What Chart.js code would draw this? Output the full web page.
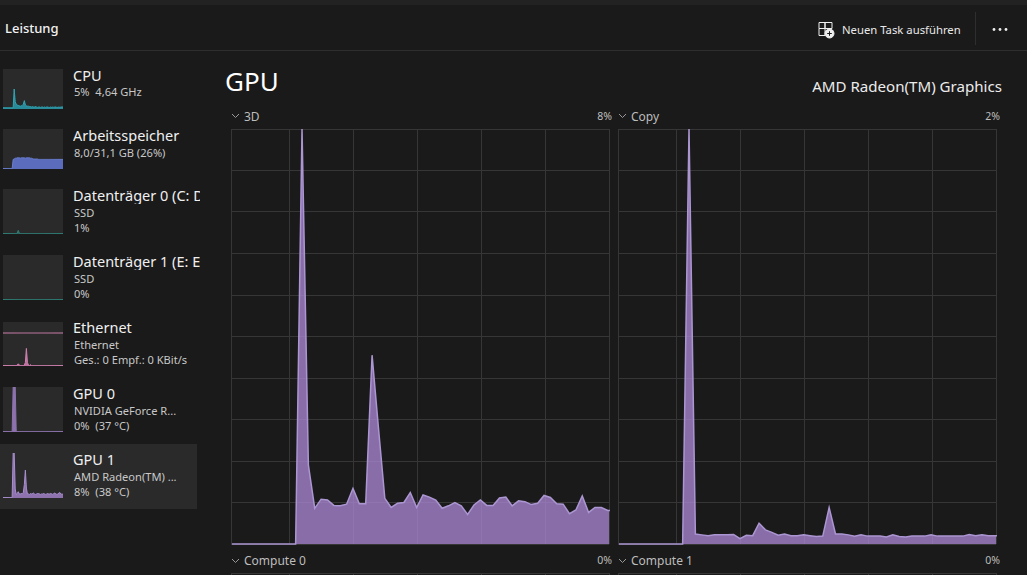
<!DOCTYPE html>
<html>
<head>
<meta charset="utf-8">
<script src="https://cdn.jsdelivr.net/npm/chart.js@4"></script>
<style>
html,body{margin:0;padding:0;width:1027px;height:575px;overflow:hidden;background:#1a1a1a;color:#fff;font-family:"Noto Sans",sans-serif}
.t{position:absolute;white-space:nowrap;line-height:1}
.sub{color:#c8c8c8;font-size:11.1px}
.name{color:#f0f0f0;font-size:14.5px;overflow:hidden;width:127px;line-height:18px}
.lab{color:#bdbdbd;font-size:12px}
.pct{color:#bdbdbd;font-size:10.5px}
canvas{position:absolute;display:block}
svg{position:absolute}
</style>
</head>
<body>
<div style="position:absolute;left:0;top:0;width:1027px;height:5px;background:#222"></div>
<div style="position:absolute;left:0;top:50px;width:1027px;height:1px;background:#2e2e2e"></div>
<div style="position:absolute;left:975px;top:12px;width:1px;height:33px;background:#2e2e2e"></div>
<div style="position:absolute;left:0;top:444px;width:197px;height:65px;background:#2a2a2a"></div>

<div class="t" style="left:5px;top:22px;font-size:13px;font-weight:500;color:#f2f2f2">Leistung</div>
<svg style="left:817px;top:21px" width="18" height="18" viewBox="0 0 18 18" fill="none" stroke="#eee" stroke-width="1">
<path d="M2 1.5h6v6H2zM8 1.5h7v6H8zM2 7.5h6v7H2z"/><circle cx="12.5" cy="12.5" r="4.5" fill="#eee"/><path d="M10.2 12.5h4.6M12.5 10.2v4.6" stroke="#1a1a1a"/></svg>
<div class="t" style="left:842px;top:24px;font-size:11.3px;color:#e8e8e8">Neuen Task ausführen</div>
<svg style="left:990px;top:26px" width="20" height="7" fill="#eee"><circle cx="4" cy="3.5" r="1.4"/><circle cx="10" cy="3.5" r="1.4"/><circle cx="16" cy="3.5" r="1.4"/></svg>

<div class="t" style="left:225px;top:68px;font-size:26px;color:#fff">GPU</div>
<div class="t" style="right:25px;top:79px;font-size:15.1px;color:#ececec">AMD Radeon(TM) Graphics</div>

<svg style="left:231px;top:113px" width="9" height="6"><path d="M1 1l3.5 3.5L8 1" fill="none" stroke="#999"/></svg>
<div class="t lab" style="left:244px;top:111px">3D</div>
<div class="t pct" style="right:415px;top:111px">8%</div>
<svg style="left:618px;top:113px" width="9" height="6"><path d="M1 1l3.5 3.5L8 1" fill="none" stroke="#999"/></svg>
<div class="t lab" style="left:631px;top:111px">Copy</div>
<div class="t pct" style="right:27px;top:111px">2%</div>
<svg style="left:231px;top:558px" width="9" height="6"><path d="M1 1l3.5 3.5L8 1" fill="none" stroke="#999"/></svg>
<div class="t lab" style="left:244px;top:555px">Compute 0</div>
<div class="t pct" style="right:415px;top:555px">0%</div>
<svg style="left:618px;top:558px" width="9" height="6"><path d="M1 1l3.5 3.5L8 1" fill="none" stroke="#999"/></svg>
<div class="t lab" style="left:631px;top:555px">Compute 1</div>
<div class="t pct" style="right:27px;top:555px">0%</div>

<div class="t name" style="left:73px;top:66px">CPU</div>
<div class="t sub" style="left:74px;top:86px">5%&nbsp; 4,64 GHz</div>
<div class="t name" style="left:73px;top:126px">Arbeitsspeicher</div>
<div class="t sub" style="left:74px;top:147px">8,0/31,1 GB (26%)</div>
<div class="t name" style="left:73px;top:186px">Datenträger 0 (C: D</div>
<div class="t sub" style="left:74px;top:207px">SSD</div>
<div class="t sub" style="left:74px;top:222px">1%</div>
<div class="t name" style="left:73px;top:252px">Datenträger 1 (E: E</div>
<div class="t sub" style="left:74px;top:273px">SSD</div>
<div class="t sub" style="left:74px;top:288px">0%</div>
<div class="t name" style="left:73px;top:318px">Ethernet</div>
<div class="t sub" style="left:74px;top:339px">Ethernet</div>
<div class="t sub" style="left:74px;top:354px">Ges.: 0 Empf.: 0 KBit/s</div>
<div class="t name" style="left:73px;top:384px">GPU 0</div>
<div class="t sub" style="left:74px;top:405px">NVIDIA GeForce R...</div>
<div class="t sub" style="left:74px;top:420px">0%&nbsp; (37 °C)</div>
<div class="t name" style="left:73px;top:450px">GPU 1</div>
<div class="t sub" style="left:74px;top:471px">AMD Radeon(TM) ...</div>
<div class="t sub" style="left:74px;top:486px">8%&nbsp; (38 °C)</div>

<script>
// seconds on the x axis, one reading per second
const seconds = [0,1,2,3,4,5,6,7,8,9,10,11,12,13,14,15,16,17,18,19,20,21,22,23,24,25,26,27,28,29,30,31,32,33,34,35,36,37,38,39,40,41,42,43,44,45,46,47,48,49,50,51,52,53,54,55,56,57,58,59,60];
const gridSeconds = [-0.15,9.1,19.16,29.2,39.2,49.2,59.2];

// big charts, values in %
const threeD = [0,0,0,0,0,0,0,0,0,0,0,100,19,8.6,10.8,10.6,9.3,9.2,9.6,13.4,9.7,9.7,45.5,28,11,8.8,9.8,10,12.4,8.8,11.8,11.3,10.6,8.6,9.2,10,9.2,7.1,9.4,10.6,9.3,9.3,11.1,11.3,9.2,10.4,10.2,9.5,9.8,11.7,11.2,9.7,9.6,7.3,8.2,11.6,7.6,8.8,8.8,8.1,8.1];
const copy = [0,0,0,0,0,0,0,0,0,0,0,100,2.4,2.2,2,2.2,2.2,2.2,2.3,1.3,2.1,2,5,3.4,2.8,2.1,2.4,2,2,2.2,2,1.8,1.9,8.8,2.4,2.4,2.2,1.9,2.2,1.9,1.9,1.9,1.7,2.2,1.8,1.7,1.9,1.9,1.9,2.2,1.9,1.9,1.9,1.9,1.9,2.3,2,2.2,2,2,2];
const compute0 = [];
const compute1 = [];

// sidebar thumbnails, values in %
const cpuThumb = [3,3,3,3,3,3,3,3,3,3,3,50,18,12,10,9,8,7,8,9,12,21,10,8,7,7,6,6,5,6,5,5,6,5,4,5,5,4,5,5,4,5,4,5,5,4,4,5,4,5,4,5,5,4,4,5,4,5,5,5];
const memThumb = [1,1,1,1,1,1,1,1,1,1,24,25,27,27,28,28,28,27,28,28,28,28,27,28,28,28,28,27,27,26,25,25,25,25,25,24,24,24,24,24,24,24,24,24,24,24,24,24,24,24,24,24,24,24,24,24,24,24,24,24];
const disk0Thumb = [1,1,1,1,1,1,1,1,1,1,1,1,1,1,2,8,2,1,1,1,1,1,1,1,1,1,1,1,1,1,1,1,1,1,1,1,1,1,1,1,1,1,1,1,1,1,1,1,1,1,1,1,1,1,1,1,1,1,1,1];
const disk1Thumb = [1,1,1,1,1,1,1,1,1,1,1,1,1,1,1,1,1,1,1,1,1,1,1,1,1,1,1,1,1,1,1,1,1,1,1,1,1,1,1,1,1,1,1,1,1,1,1,1,1,1,1,1,1,1,1,1,1,1,1,1];
const ethThumb = [1,1,1,1,1,1,1,1,1,1,1,1,1,1,2,5,2,1,1,1,1,2,8,40,8,2,1,3,1,1,1,1,1,1,1,1,1,1,1,1,1,1,1,1,1,1,1,1,1,1,1,1,1,1,1,1,1,1,1,1];
const ethLine = [75,75,75,75,75,75,75,75,75,75,75,75,75,75,75,75,75,75,75,75,75,75,75,75,75,75,75,75,75,75,75,75,75,75,75,75,75,75,75,75,75,75,75,75,75,75,75,75,75,75,75,75,75,75,75,75,75,75,75,75];
const gpu0Thumb = [1,1,1,1,1,1,1,1,1,1,100,100,100,1,1,1,1,1,1,1,1,1,1,1,1,1,1,1,1,1,1,1,1,1,1,1,1,1,1,1,1,1,1,1,1,1,1,1,1,1,1,1,1,1,1,1,1,1,1,1];
const gpu1Thumb = [1,1,1,1,1,1,1,1,1,1,100,100,20,8,10,14,9,9,10,10,12,30,62,22,9,9,8,10,9,10,11,9,8,9,10,10,9,8,9,9,10,9,8,9,10,9,9,10,9,8,10,11,9,8,9,11,12,8,9,8];

const purpleFill = 'rgba(173,138,218,0.75)';
const purpleLine = 'rgb(172,150,210)';
const gridColor = '#363636';

function bigChart(left, top, values) {
    const c = document.createElement('canvas');
    c.width = 382; c.height = 419;
    c.style.left = (left - 2) + 'px';
    c.style.top = (top - 2) + 'px';
    document.body.appendChild(c);
    new Chart(c.getContext('2d'), {
        type: 'line',
        data: {labels: seconds, datasets: [{
            data: seconds.slice(0, values.length).map((s, i) => ({x: s, y: values[i]})),
            borderColor: purpleLine, borderWidth: 1.5, backgroundColor: purpleFill,
            fill: 'origin', pointRadius: 0, tension: 0, clip: 1
        }]},
        options: {
            responsive: false, animation: false, devicePixelRatio: 1,
            layout: {padding: 2},
            plugins: {legend: {display: false}, tooltip: {enabled: false}},
            scales: {
                x: {type: 'linear', min: -0.15, max: 59.2,
                    afterBuildTicks: a => { a.ticks = gridSeconds.map(v => ({value: v})); },
                    ticks: {display: false}, border: {display: false},
                    grid: {color: gridColor, drawTicks: false}},
                y: {min: 0, max: 100,
                    ticks: {display: false, stepSize: 10}, border: {display: false},
                    grid: {color: gridColor, drawTicks: false}}
            }
        }
    });
}

function thumb(left, top, h, sets) {
    const c = document.createElement('canvas');
    c.width = 60; c.height = h;
    c.style.left = left + 'px';
    c.style.top = top + 'px';
    c.style.background = '#2a2a2a';
    document.body.appendChild(c);
    new Chart(c.getContext('2d'), {
        type: 'line',
        data: {labels: seconds.slice(0, 60), datasets: sets.map(s => ({
            data: s.values, borderColor: s.line, backgroundColor: s.fill,
            borderWidth: 1, fill: s.fill ? 'origin' : false, pointRadius: 0, tension: 0
        }))},
        options: {
            responsive: false, animation: false, devicePixelRatio: 1,
            plugins: {legend: {display: false}, tooltip: {enabled: false}},
            scales: {x: {display: false}, y: {display: false, min: 0, max: 100}}
        }
    });
}

bigChart(231, 129, threeD);
bigChart(618, 129, copy);
bigChart(231, 573, compute0);
bigChart(618, 573, compute1);

thumb(3, 69, 40, [{values: cpuThumb, line: '#2fa5b5', fill: 'rgba(40,170,190,0.75)'}]);
thumb(3, 129, 40, [{values: memThumb, line: '#6a7fd0', fill: 'rgba(100,120,215,0.85)'}]);
thumb(3, 189, 45, [{values: disk0Thumb, line: '#2f7f78', fill: 'rgba(50,140,130,0.6)'}]);
thumb(3, 255, 45, [{values: disk1Thumb, line: '#2f7f78', fill: 'rgba(50,140,130,0.6)'}]);
thumb(3, 322, 44, [{values: ethThumb, line: '#d080b0', fill: 'rgba(225,130,185,0.8)'}, {values: ethLine, line: '#d080b0'}]);
thumb(3, 387, 45, [{values: gpu0Thumb, line: '#8d74ae', fill: 'rgba(173,138,218,0.75)'}]);
thumb(3, 453, 45, [{values: gpu1Thumb, line: '#a98fd0', fill: 'rgba(173,138,218,0.75)'}]);
</script>
</body>
</html>
